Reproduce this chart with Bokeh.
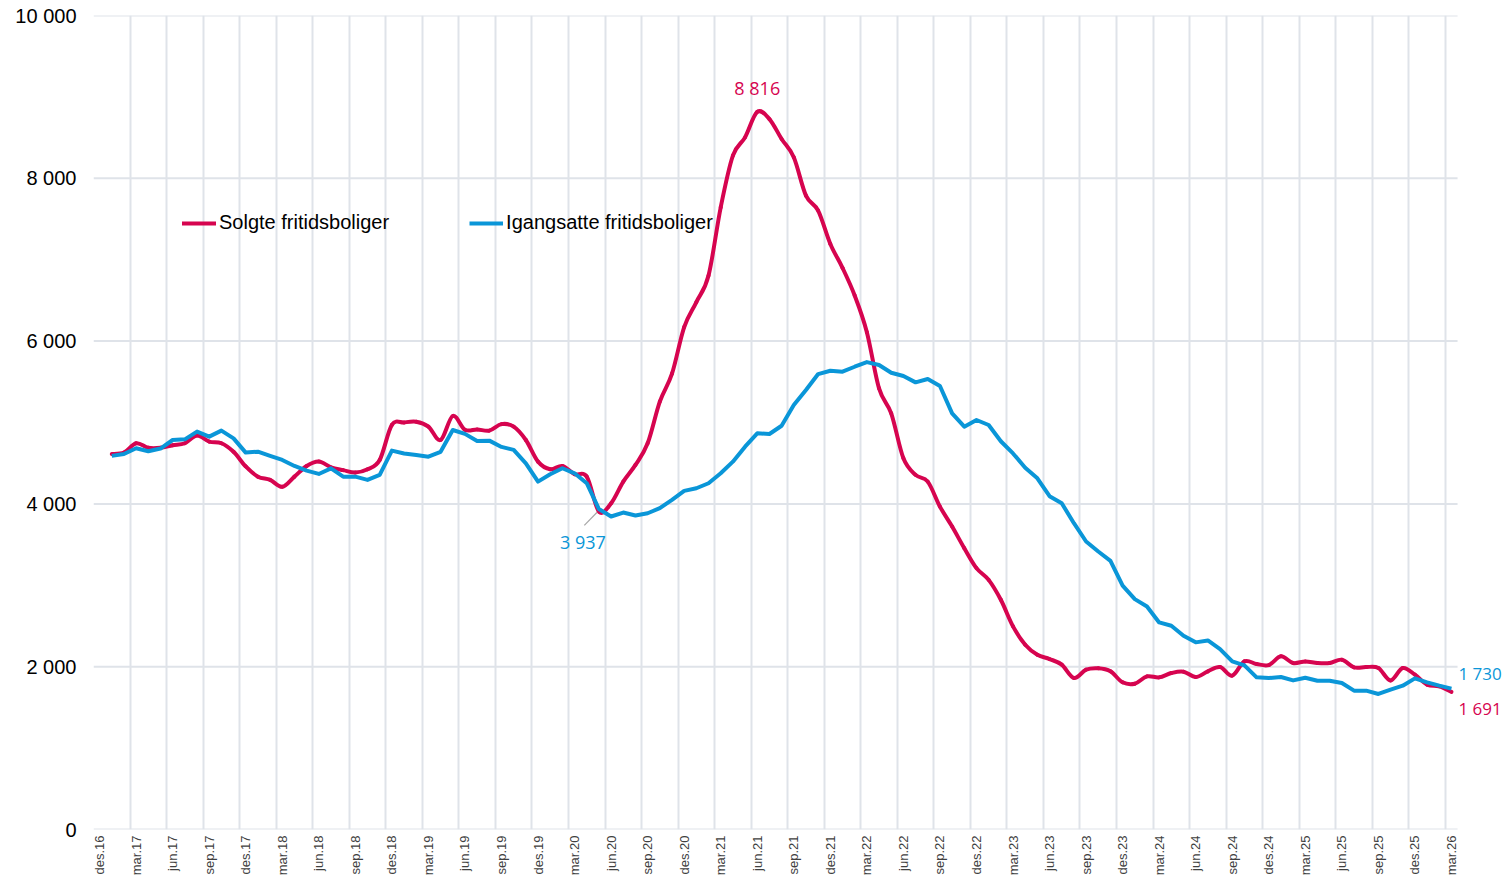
import math
from bokeh.plotting import figure
from bokeh.models import FixedTicker, Legend, LegendItem, Label, Range1d, ColumnDataSource
from bokeh.embed import file_html
from bokeh.resources import INLINE

# ---------------- data ----------------
month_abbr = ["jan", "feb", "mar", "apr", "mai", "jun", "jul", "aug", "sep", "okt", "nov", "des"]
# Categories: des.16 .. mar.26 (index 0 .. 111); series start at jan.17 (index 1)
categories = ["des.16"] + [f"{m}.{y}" for y in range(17, 26) for m in month_abbr] + ["jan.26", "feb.26", "mar.26"]

tick_labels = ["des.16", "mar.17", "jun.17", "sep.17", "des.17", "mar.18", "jun.18", "sep.18", "des.18",
               "mar.19", "jun.19", "sep.19", "des.19", "mar.20", "jun.20", "sep.20", "des.20",
               "mar.21", "jun.21", "sep.21", "des.21", "mar.22", "jun.22", "sep.22", "des.22",
               "mar.23", "jun.23", "sep.23", "des.23", "mar.24", "jun.24", "sep.24", "des.24",
               "mar.25", "jun.25", "sep.25", "des.25", "mar.26"]

solgte = [4613, 4630, 4745, 4690, 4690, 4720, 4745, 4840, 4765, 4745, 4640, 4460,
          4335, 4295, 4210, 4335, 4465, 4520, 4450, 4415, 4385, 4425, 4540, 4970,
          5000, 5010, 4950, 4785, 5080, 4910, 4915, 4900, 4980, 4949, 4785, 4519,
          4425, 4466, 4364, 4335, 3906, 4008, 4274, 4479, 4744, 5256, 5600, 6172,
          6479, 6806, 7644, 8278, 8503, 8816, 8728, 8483, 8258, 7787, 7603, 7194,
          6900, 6560, 6110, 5419, 5112, 4560, 4356, 4274, 3967, 3722, 3456, 3211,
          3067, 2822, 2495, 2270, 2147, 2094, 2025, 1861, 1963, 1980, 1943, 1808,
          1791, 1881, 1869, 1922, 1939, 1873, 1943, 1996, 1890, 2065, 2033, 2020,
          2127, 2045, 2065, 2045, 2045, 2086, 1992, 1996, 1984, 1832, 1984, 1902,
          1779, 1759, 1691]

igangsatte = [4590, 4613, 4683, 4646, 4680, 4785, 4793, 4888, 4826, 4900, 4805, 4630,
              4642, 4590, 4540, 4466, 4409, 4368, 4437, 4335, 4335, 4295, 4356, 4655,
              4620, 4600, 4580, 4640, 4908, 4860, 4773, 4777, 4700, 4663, 4499, 4274,
              4364, 4438, 4376, 4254, 3937, 3845, 3894, 3857, 3885, 3947, 4049, 4160,
              4192, 4254, 4376, 4519, 4703, 4867, 4859, 4960, 5215, 5399, 5595, 5636,
              5624, 5685, 5742, 5706, 5611, 5571, 5493, 5534, 5448, 5112, 4949, 5031,
              4969, 4770, 4620, 4445, 4315, 4095, 4008, 3763, 3538, 3415, 3300, 2995,
              2830, 2740, 2544, 2503, 2380, 2299, 2323, 2217, 2065, 2016, 1869, 1861,
              1873, 1832, 1865, 1828, 1828, 1800, 1706, 1706, 1665, 1718, 1767, 1857,
              1808, 1767, 1730]

y_ticks = [0, 2000, 4000, 6000, 8000, 10000]
y_tick_labels = ["0", "2 000", "4 000", "6 000", "8 000", "10 000"]

periods = categories[1:]
x_idx = [categories.index(c) for c in periods]
tick_pos = [categories.index(t) for t in tick_labels]

PINK = "#D6044F"
BLUE = "#0A96D8"
GRID = "#DFE3E9"

# layout (pixels)
W, H = 1504, 878
LEFT, TOP, BOTTOM = 93, 15, 48
PX_PER_CAT = 12.179          # width of one month category in px
n_cat = len(categories)
x_start = -0.5
x_cat_end = n_cat - 0.5
x_end = x_start + (W - LEFT) / PX_PER_CAT   # extra room on the right for end labels


def fmt(v):
    return f"{v:,}".replace(",", " ")


# smoothed (Catmull-Rom -> cubic Bezier) segments for the "Solgte" series
def smooth_segments(xs, ys):
    n = len(xs)
    seg = dict(x0=[], y0=[], x1=[], y1=[], cx0=[], cy0=[], cx1=[], cy1=[])
    for i in range(n - 1):
        xp, yp = (xs[i - 1], ys[i - 1]) if i > 0 else (xs[i], ys[i])
        xn, yn = (xs[i + 2], ys[i + 2]) if i + 2 < n else (xs[i + 1], ys[i + 1])
        seg["x0"].append(xs[i]); seg["y0"].append(ys[i])
        seg["x1"].append(xs[i + 1]); seg["y1"].append(ys[i + 1])
        seg["cx0"].append(xs[i] + (xs[i + 1] - xp) / 6.0)
        seg["cy0"].append(ys[i] + (ys[i + 1] - yp) / 6.0)
        seg["cx1"].append(xs[i + 1] - (xn - xs[i]) / 6.0)
        seg["cy1"].append(ys[i + 1] - (yn - ys[i]) / 6.0)
    return seg


# ---------------- figure ----------------
p = figure(width=W, height=H, output_backend="svg", toolbar_location=None,
           x_range=Range1d(x_start, x_end), y_range=Range1d(0, 10000),
           min_border_left=LEFT, min_border_right=0, min_border_top=TOP, min_border_bottom=BOTTOM)
p.outline_line_color = None
p.background_fill_color = "white"
p.border_fill_color = "white"

# horizontal gridlines only across the category area
p.ygrid.grid_line_color = None
p.segment(x0=[x_start] * len(y_ticks), x1=[x_cat_end] * len(y_ticks), y0=y_ticks, y1=y_ticks,
          line_color=GRID, line_width=2)

src = ColumnDataSource(dict(x=x_idx, solgte=solgte, igangsatte=igangsatte))
bez = ColumnDataSource(smooth_segments(x_idx, solgte))

r_pink = p.bezier(x0="x0", y0="y0", x1="x1", y1="y1", cx0="cx0", cy0="cy0", cx1="cx1", cy1="cy1",
                  source=bez, line_color=PINK, line_width=4, line_cap="round")
r_blue = p.line("x", "igangsatte", source=src, line_color=BLUE, line_width=4, line_join="round")

# axes
p.xaxis.ticker = FixedTicker(ticks=tick_pos)
p.xaxis.major_label_overrides = {pos: lab for pos, lab in zip(tick_pos, tick_labels)}
p.xaxis.major_label_orientation = math.pi / 2
p.xaxis.major_label_text_font = "Liberation Sans"
p.xaxis.major_label_text_font_size = "13px"
p.xaxis.major_label_text_color = "#404040"
p.xaxis.major_label_standoff = 6
p.xaxis.major_tick_out = 0
p.xaxis.major_tick_in = 0
p.xaxis.axis_line_color = None
p.xaxis.major_tick_line_color = None
p.xaxis.minor_tick_line_color = None

p.yaxis.ticker = FixedTicker(ticks=y_ticks)
p.yaxis.major_label_overrides = {v: lab for v, lab in zip(y_ticks, y_tick_labels)}
p.yaxis.major_label_text_font = "Liberation Sans"
p.yaxis.major_label_text_font_size = "20px"
p.yaxis.major_label_text_color = "#000000"
p.yaxis.major_label_standoff = 17
p.yaxis.major_tick_out = 0
p.yaxis.major_tick_in = 0
p.yaxis.axis_line_color = None
p.yaxis.major_tick_line_color = None
p.yaxis.minor_tick_line_color = None

# vertical gridlines at quarter boundaries
p.xgrid.ticker = FixedTicker(ticks=[t - 0.5 for t in tick_pos])
p.xgrid.grid_line_color = GRID
p.xgrid.grid_line_width = 2

# legend
legend = Legend(items=[LegendItem(label="Solgte fritidsboliger", renderers=[r_pink]),
                       LegendItem(label="Igangsatte fritidsboliger", renderers=[r_blue])],
                orientation="horizontal", location=(89, 595),
                background_fill_alpha=0, border_line_color=None,
                padding=0, margin=0, spacing=80, glyph_width=34, glyph_height=20,
                label_standoff=3, label_text_font="Liberation Sans",
                label_text_font_size="20px", label_text_color="#000000")
p.add_layout(legend)

# data labels
peak_i = solgte.index(max(solgte))
p.add_layout(Label(x=x_idx[peak_i], y=solgte[peak_i], text=fmt(solgte[peak_i]),
                   x_offset=0, y_offset=24, text_align="center", text_baseline="middle",
                   text_color=PINK, text_font="Open Sans", text_font_size="18px"))

low_i = 40  # jun.20 annotation
lx, ly = x_idx[low_i], igangsatte[low_i]
p.segment(x0=[lx - 0.15], y0=[ly - 40], x1=[lx - 1.2], y1=[ly - 200], line_color="#A6A6A6", line_width=1.2)
p.add_layout(Label(x=lx, y=ly, text=fmt(ly),
                   x_offset=-16, y_offset=-33, text_align="center", text_baseline="middle",
                   text_color=BLUE, text_font="Open Sans", text_font_size="18px"))

p.add_layout(Label(x=x_idx[-1], y=igangsatte[-1], text=fmt(igangsatte[-1]),
                   x_offset=7, y_offset=15, text_align="left", text_baseline="middle",
                   text_color=BLUE, text_font="Open Sans", text_font_size="17px"))
p.add_layout(Label(x=x_idx[-1], y=solgte[-1], text=fmt(solgte[-1]),
                   x_offset=7, y_offset=-17, text_align="left", text_baseline="middle",
                   text_color=PINK, text_font="Open Sans", text_font_size="17px"))

open("out.html", "w").write(file_html(p, INLINE))
